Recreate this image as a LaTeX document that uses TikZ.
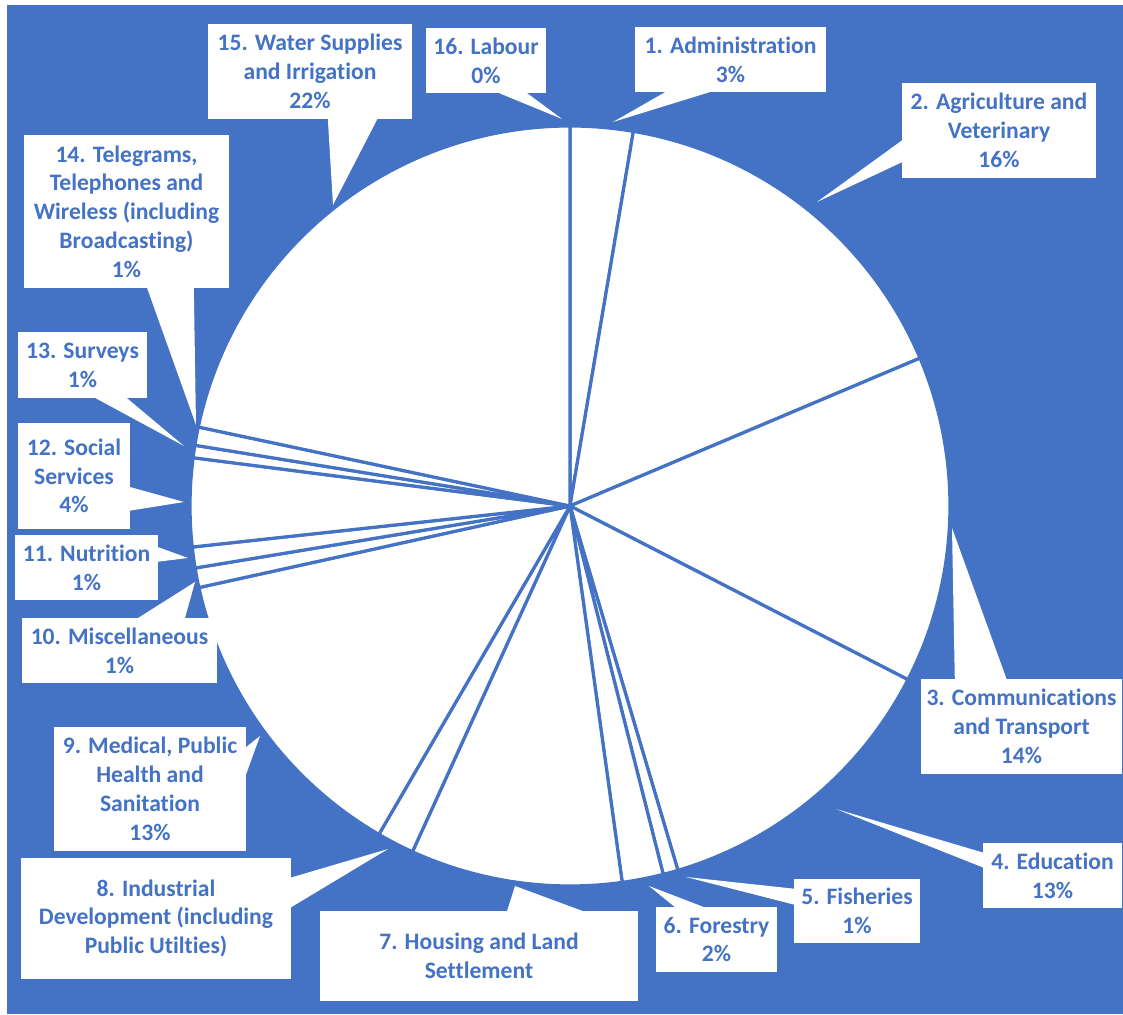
\documentclass[tikz,border=0pt]{standalone}
\usepackage{fontspec}
\setmainfont{Carlito}[Ligatures=NoCommon]
\definecolor{piebl}{HTML}{4472C4}
\tikzstyle{lbl} = [fill=white, text=piebl, font=\fontsize{23.6}{28.8}\selectfont\bfseries, align=center, inner sep=0pt]
\tikzstyle{wdg} = [fill=white]
\tikzstyle{slc} = [fill=white, draw=piebl, line width=3.2pt, line join=round]
\begin{document}
\begin{tikzpicture}[x=1pt, y=1pt]
    \fill[white] (0,0) rectangle (1123,1014);
    \fill[piebl] (7,0) rectangle (1123,1009);
    \coordinate (C) at (570,508);
    \foreach \a/\b in {90/80.4, 80.4/22.9, 22.9/-27.2, -27.2/-73.5, -73.5/-75.8, -75.8/-82.1, -82.1/-114.5, -114.5/-120.2, -120.2/-167.6, -167.6/-170.6, -170.6/-173.8, -173.8/-187.3, -187.3/-189.2, -189.2/-192, -192/-270}
      \filldraw[slc] (C) -- ++(\a:380pt) arc[start angle=\a, end angle=\b, radius=380pt] -- cycle;
    \node[lbl, minimum width=191pt, minimum height=65pt] (L1) at (730.5,954.5) {1. Administration\\3\%};
    \node[lbl, minimum width=194pt, minimum height=95pt] (L2) at (999,883.5) {2. Agriculture and\\Veterinary\\16\%};
    \node[lbl, minimum width=201pt, minimum height=95pt] (L3) at (1021.5,287.5) {3. Communications\\and Transport\\14\%};
    \node[lbl, minimum width=139pt, minimum height=65pt] (L4) at (1052.5,138.5) {4. Education\\13\%};
    \node[lbl, minimum width=126pt, minimum height=64pt] (L5) at (857,103) {5. Fisheries\\1\%};
    \node[lbl, minimum width=121pt, minimum height=65pt] (L6) at (716.5,74.5) {6. Forestry\\2\%};
    \node[lbl, minimum width=318pt, minimum height=90pt] (L7) at (479,58) {7. Housing and Land\\Settlement};
    \node[lbl, minimum width=270pt, minimum height=121pt] (L8) at (156,95.5) {8. Industrial\\Development (including\\Public Utilties)};
    \node[lbl, minimum width=192pt, minimum height=124pt] (L9) at (150,225) {9. Medical, Public\\Health and\\Sanitation\\13\%};
    \node[lbl, minimum width=195pt, minimum height=65pt] (L10) at (119.5,363.5) {10. Miscellaneous\\1\%};
    \node[lbl, minimum width=143pt, minimum height=65pt] (L11) at (86.5,446.5) {11. Nutrition\\1\%};
    \node[lbl, minimum width=112pt, minimum height=106pt] (L12) at (74,538) {12. Social\\Services\\4\%};
    \node[lbl, minimum width=129pt, minimum height=66pt] (L13) at (82.5,649) {13. Surveys\\1\%};
    \node[lbl, minimum width=205pt, minimum height=153pt] (L14) at (126.5,802.5) {14. Telegrams,\\Telephones and\\Wireless (including\\Broadcasting)\\1\%};
    \node[lbl, minimum width=204pt, minimum height=95pt] (L15) at (310,942.5) {15. Water Supplies\\and Irrigation\\22\%};
    \node[lbl, minimum width=120pt, minimum height=65pt] (L16) at (486,953.5) {16. Labour\\0\%};
    \coordinate (T1) at (613,892);
    \coordinate (T2) at (817,812);
    \coordinate (T3) at (952,486);
    \coordinate (T4) at (836,205);
    \coordinate (T5) at (686,137);
    \coordinate (T6) at (649,128);
    \coordinate (T7) at (515,128);
    \coordinate (T8) at (388,165);
    \coordinate (T9) at (260,278);
    \coordinate (T10) at (195,432);
    \coordinate (T11) at (188,456);
    \coordinate (T12) at (184,512);
    \coordinate (T13) at (184,568);
    \coordinate (T14) at (196,589);
    \coordinate (T15) at (333,809);
    \coordinate (T16) at (562,895);
    \fill[wdg] ([xshift=32pt,yshift=1pt]L1.south west) -- (T1) -- ([xshift=78pt,yshift=1pt]L1.south west) -- cycle;
    \fill[wdg] ([xshift=1pt,yshift=-57pt]L2.north west) -- (T2) -- ([xshift=1pt,yshift=-79pt]L2.north west) -- cycle;
    \fill[wdg] ([xshift=34pt,yshift=-1pt]L3.north west) -- (T3) -- ([xshift=86pt,yshift=-1pt]L3.north west) -- cycle;
    \fill[wdg] ([xshift=1pt,yshift=-10pt]L4.north west) -- (T4) -- ([xshift=1pt,yshift=-25pt]L4.north west) -- cycle;
    \fill[wdg] ([xshift=1pt,yshift=-10pt]L5.north west) -- (T5) -- ([xshift=1pt,yshift=-26pt]L5.north west) -- cycle;
    \fill[wdg] ([xshift=20pt,yshift=-1pt]L6.north west) -- (T6) -- ([xshift=50pt,yshift=-1pt]L6.north west) -- cycle;
    \fill[wdg] ([xshift=187pt,yshift=-1pt]L7.north west) -- (T7) -- ([xshift=265pt,yshift=-1pt]L7.north west) -- cycle;
    \fill[wdg] ([xshift=-1pt,yshift=-20pt]L8.north east) -- (T8) -- ([xshift=-1pt,yshift=-50pt]L8.north east) -- cycle;
    \fill[wdg] ([xshift=-1pt,yshift=-21pt]L9.north east) -- (T9) -- ([xshift=-1pt,yshift=-50pt]L9.north east) -- cycle;
    \fill[wdg] ([xshift=115pt,yshift=-1pt]L10.north west) -- (T10) -- ([xshift=163pt,yshift=-1pt]L10.north west) -- cycle;
    \fill[wdg] ([xshift=-1pt,yshift=-12pt]L11.north east) -- (T11) -- ([xshift=-1pt,yshift=-27pt]L11.north east) -- cycle;
    \fill[wdg] ([xshift=-1pt,yshift=-64pt]L12.north east) -- (T12) -- ([xshift=-1pt,yshift=-88pt]L12.north east) -- cycle;
    \fill[wdg] ([xshift=76pt,yshift=1pt]L13.south west) -- (T13) -- ([xshift=108pt,yshift=1pt]L13.south west) -- cycle;
    \fill[wdg] ([xshift=123pt,yshift=1pt]L14.south west) -- (T14) -- ([xshift=170pt,yshift=1pt]L14.south west) -- cycle;
    \fill[wdg] ([xshift=120pt,yshift=1pt]L15.south west) -- (T15) -- ([xshift=170pt,yshift=1pt]L15.south west) -- cycle;
    \fill[wdg] ([xshift=71pt,yshift=1pt]L16.south west) -- (T16) -- ([xshift=100pt,yshift=1pt]L16.south west) -- cycle;
  \end{tikzpicture}
\end{document}
